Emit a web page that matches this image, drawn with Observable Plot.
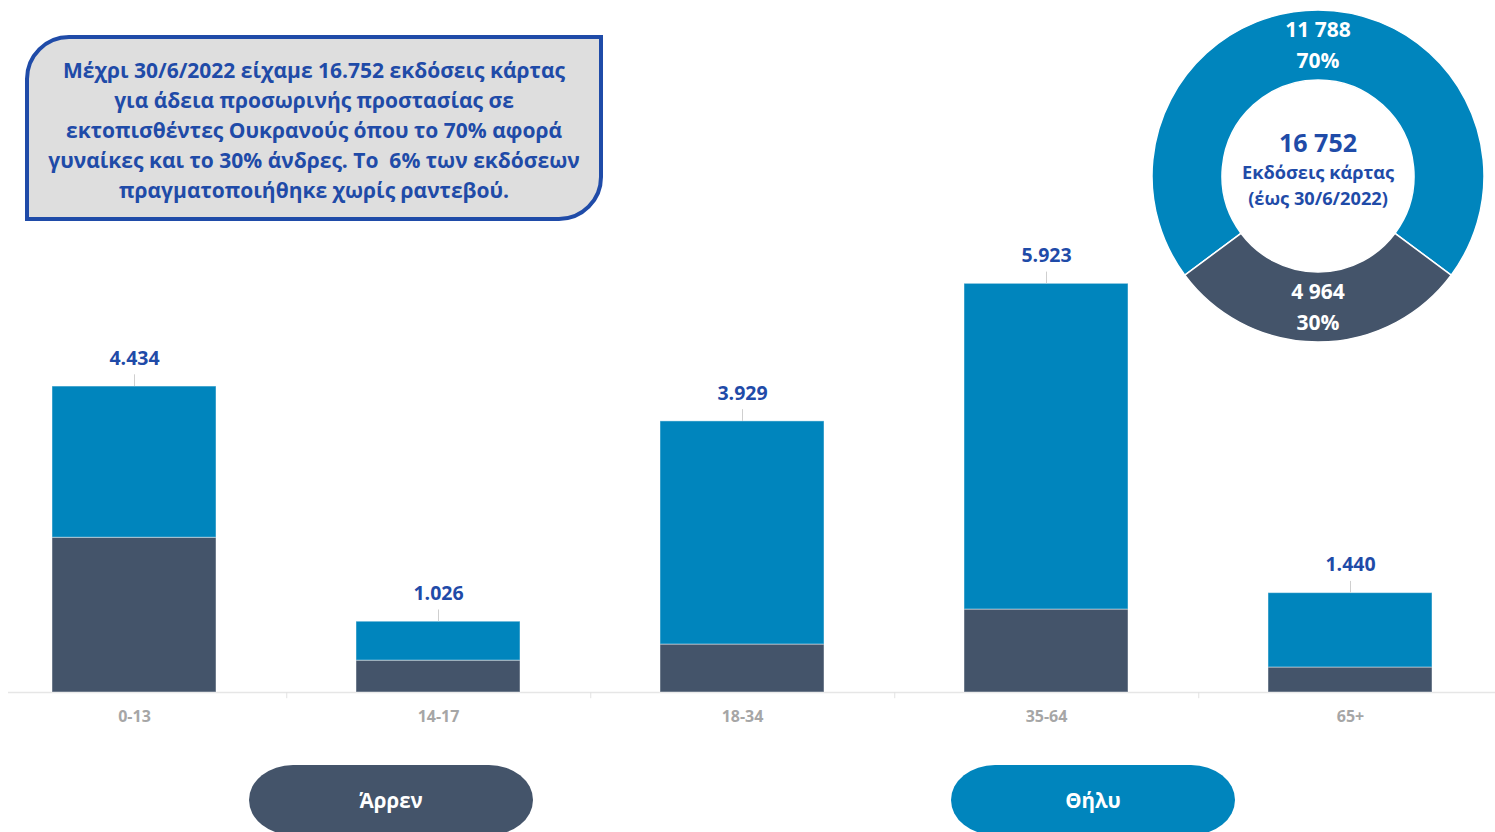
<!DOCTYPE html>
<html><head><meta charset="utf-8">
<script src="https://cdn.jsdelivr.net/npm/d3@7"></script>
<script src="https://cdn.jsdelivr.net/npm/@observablehq/plot@0.6"></script>
<style>
html,body{margin:0;padding:0;background:#fff;}
#wrap{position:relative;width:1495px;height:832px;overflow:hidden;font-family:"Open Sans",sans-serif;}
#chart{position:absolute;left:0;top:0;}
#note{position:absolute;left:25px;top:35px;width:578px;height:186px;box-sizing:border-box;border:4px solid #1F4BA8;border-radius:44px 0 44px 0;background:#DEDEDE;color:#1F4BA8;font-weight:700;font-size:21px;line-height:30px;text-align:center;padding-top:16px;white-space:nowrap;}
.pill{position:absolute;top:765px;width:284px;height:70px;border-radius:44px/35px;color:#fff;font-weight:700;font-size:20.5px;display:flex;align-items:center;justify-content:center;}
#donut{position:absolute;left:0;top:0;pointer-events:none;}
</style>
</head><body>
<div id="wrap">
  <div id="chart"></div>
  <div id="note"></div>
  <svg id="donut" width="1495" height="832"></svg>
  <div id="legend"></div>
</div>
<script>
// ---- data ----
const ageGroups = ["0-13", "14-17", "18-34", "35-64", "65+"];
const maleValues = [2243, 462, 695, 1202, 362];
const femaleValues = [2191, 564, 3234, 4721, 1078];
const totalValues = [4434, 1026, 3929, 5923, 1440];
const totalLabels = ["4.434", "1.026", "3.929", "5.923", "1.440"];
const sexNames = ["Άρρεν", "Θήλυ"];
const sexColors = ["#44546A", "#0085BD"];
const donutNames = ["Θήλυ", "Άρρεν"];
const donutValues = [11788, 4964];
const donutValueLabels = ["11 788", "4 964"];
const donutPctLabels = ["70%", "30%"];
const donutCenterLines = ["16 752", "Εκδόσεις κάρτας", "(έως 30/6/2022)"];
const noteLines = [
  "Μέχρι 30/6/2022 είχαμε 16.752 εκδόσεις κάρτας",
  "για άδεια προσωρινής προστασίας σε",
  "εκτοπισθέντες Ουκρανούς όπου το 70% αφορά",
  "γυναίκες και το 30% άνδρες. Το  6% των εκδόσεων",
  "πραγματοποιήθηκε χωρίς ραντεβού."
];

// ---- tables ----
const rows = ageGroups.flatMap((age, i) => [
  {age, sex: sexNames[0], value: maleValues[i]},
  {age, sex: sexNames[1], value: femaleValues[i]}
]);
const totals = ageGroups.map((age, i) => ({age, total: totalValues[i], label: totalLabels[i]}));

const blue = "#1F4BA8";
const font = "'Open Sans', sans-serif";
const chart = Plot.plot({
  width: 1495, height: 832,
  marginTop: 140, marginBottom: 140, marginLeft: 8, marginRight: 0,
  style: {fontFamily: font, background: "transparent"},
  x: {domain: ageGroups, range: [-19.25, 1503.25], paddingInner: 0.46, paddingOuter: 0.23, align: 0.5, axis: null},
  y: {domain: [0, 8000], axis: null},
  color: {domain: sexNames, range: sexColors},
  marks: [
    Plot.ruleY([0], {stroke: "#e6e6e6", strokeWidth: 1.5}),
    Plot.ruleX(ageGroups.slice(0, 4), {x: d => d, dx: 152.25, y1: 0, y2: -90, stroke: "#e2e2e2"}),
    Plot.barY(rows, {x: "age", y: "value", fill: "sex", stroke: "#ffffff", strokeOpacity: 0.45, strokeWidth: 1}),
    Plot.ruleX(totals, {x: "age", y1: "total", y2: d => d.total + 170, stroke: "#cfcfcf"}),
    Plot.text(totals, {x: "age", y: "total", text: "label", dy: -28, fill: blue, fontSize: 19.5, fontWeight: 700}),
    Plot.text(ageGroups, {x: d => d, y: 0, text: d => d, dy: 24, fill: "#a6a6a6", fontSize: 16, fontWeight: 700})
  ]
});
document.getElementById("chart").appendChild(chart);

// ---- note box ----
document.getElementById("note").innerHTML = noteLines.map(s => s.replace(/  /g, " &nbsp;")).join("<br>");

// ---- legend pills ----
const legend = document.getElementById("legend");
const pillLeft = [249, 951];
sexNames.forEach((name, i) => {
  const d = document.createElement("div");
  d.className = "pill";
  d.style.left = pillLeft[i] + "px";
  d.style.background = sexColors[i];
  d.textContent = name;
  legend.appendChild(d);
});

// ---- donut ----
const svg = d3.select("#donut");
const g = svg.append("g").attr("transform", "translate(1318,176)");
const femaleAngle = donutValues[0] / d3.sum(donutValues) * 2 * Math.PI;
const pie = d3.pie().sort(null).value(d => d.value)
  .startAngle(-femaleAngle / 2).endAngle(2 * Math.PI - femaleAngle / 2);
const arc = d3.arc().innerRadius(96).outerRadius(166);
const labelArc = d3.arc().innerRadius(131).outerRadius(131);
const donutData = donutNames.map((name, i) => ({name, value: donutValues[i], vl: donutValueLabels[i], pl: donutPctLabels[i]}));
const arcs = pie(donutData);
g.selectAll("path").data(arcs).join("path")
  .attr("d", arc)
  .attr("fill", d => sexColors[sexNames.indexOf(d.data.name)])
  .attr("stroke", "#fff").attr("stroke-width", 1.5);
arcs.forEach(a => {
  const [cx, cy] = labelArc.centroid(a);
  const t = g.append("text").attr("text-anchor", "middle").attr("fill", "#fff")
    .attr("font-weight", 700).attr("font-size", 21).attr("font-family", font);
  t.append("tspan").attr("x", cx).attr("y", cy - 15.5).attr("dy", "0.35em").text(a.data.vl);
  t.append("tspan").attr("x", cx).attr("y", cy + 15.5).attr("dy", "0.35em").text(a.data.pl);
});
const ct = g.append("text").attr("text-anchor", "middle").attr("fill", blue)
  .attr("font-weight", 700).attr("font-family", font);
ct.append("tspan").attr("x", 0).attr("y", -33).attr("dy", "0.35em").attr("font-size", 25).text(donutCenterLines[0]);
ct.append("tspan").attr("x", 0).attr("y", -3).attr("dy", "0.35em").attr("font-size", 18.2).text(donutCenterLines[1]);
ct.append("tspan").attr("x", 0).attr("y", 23).attr("dy", "0.35em").attr("font-size", 18.2).text(donutCenterLines[2]);
</script>
</body></html>
